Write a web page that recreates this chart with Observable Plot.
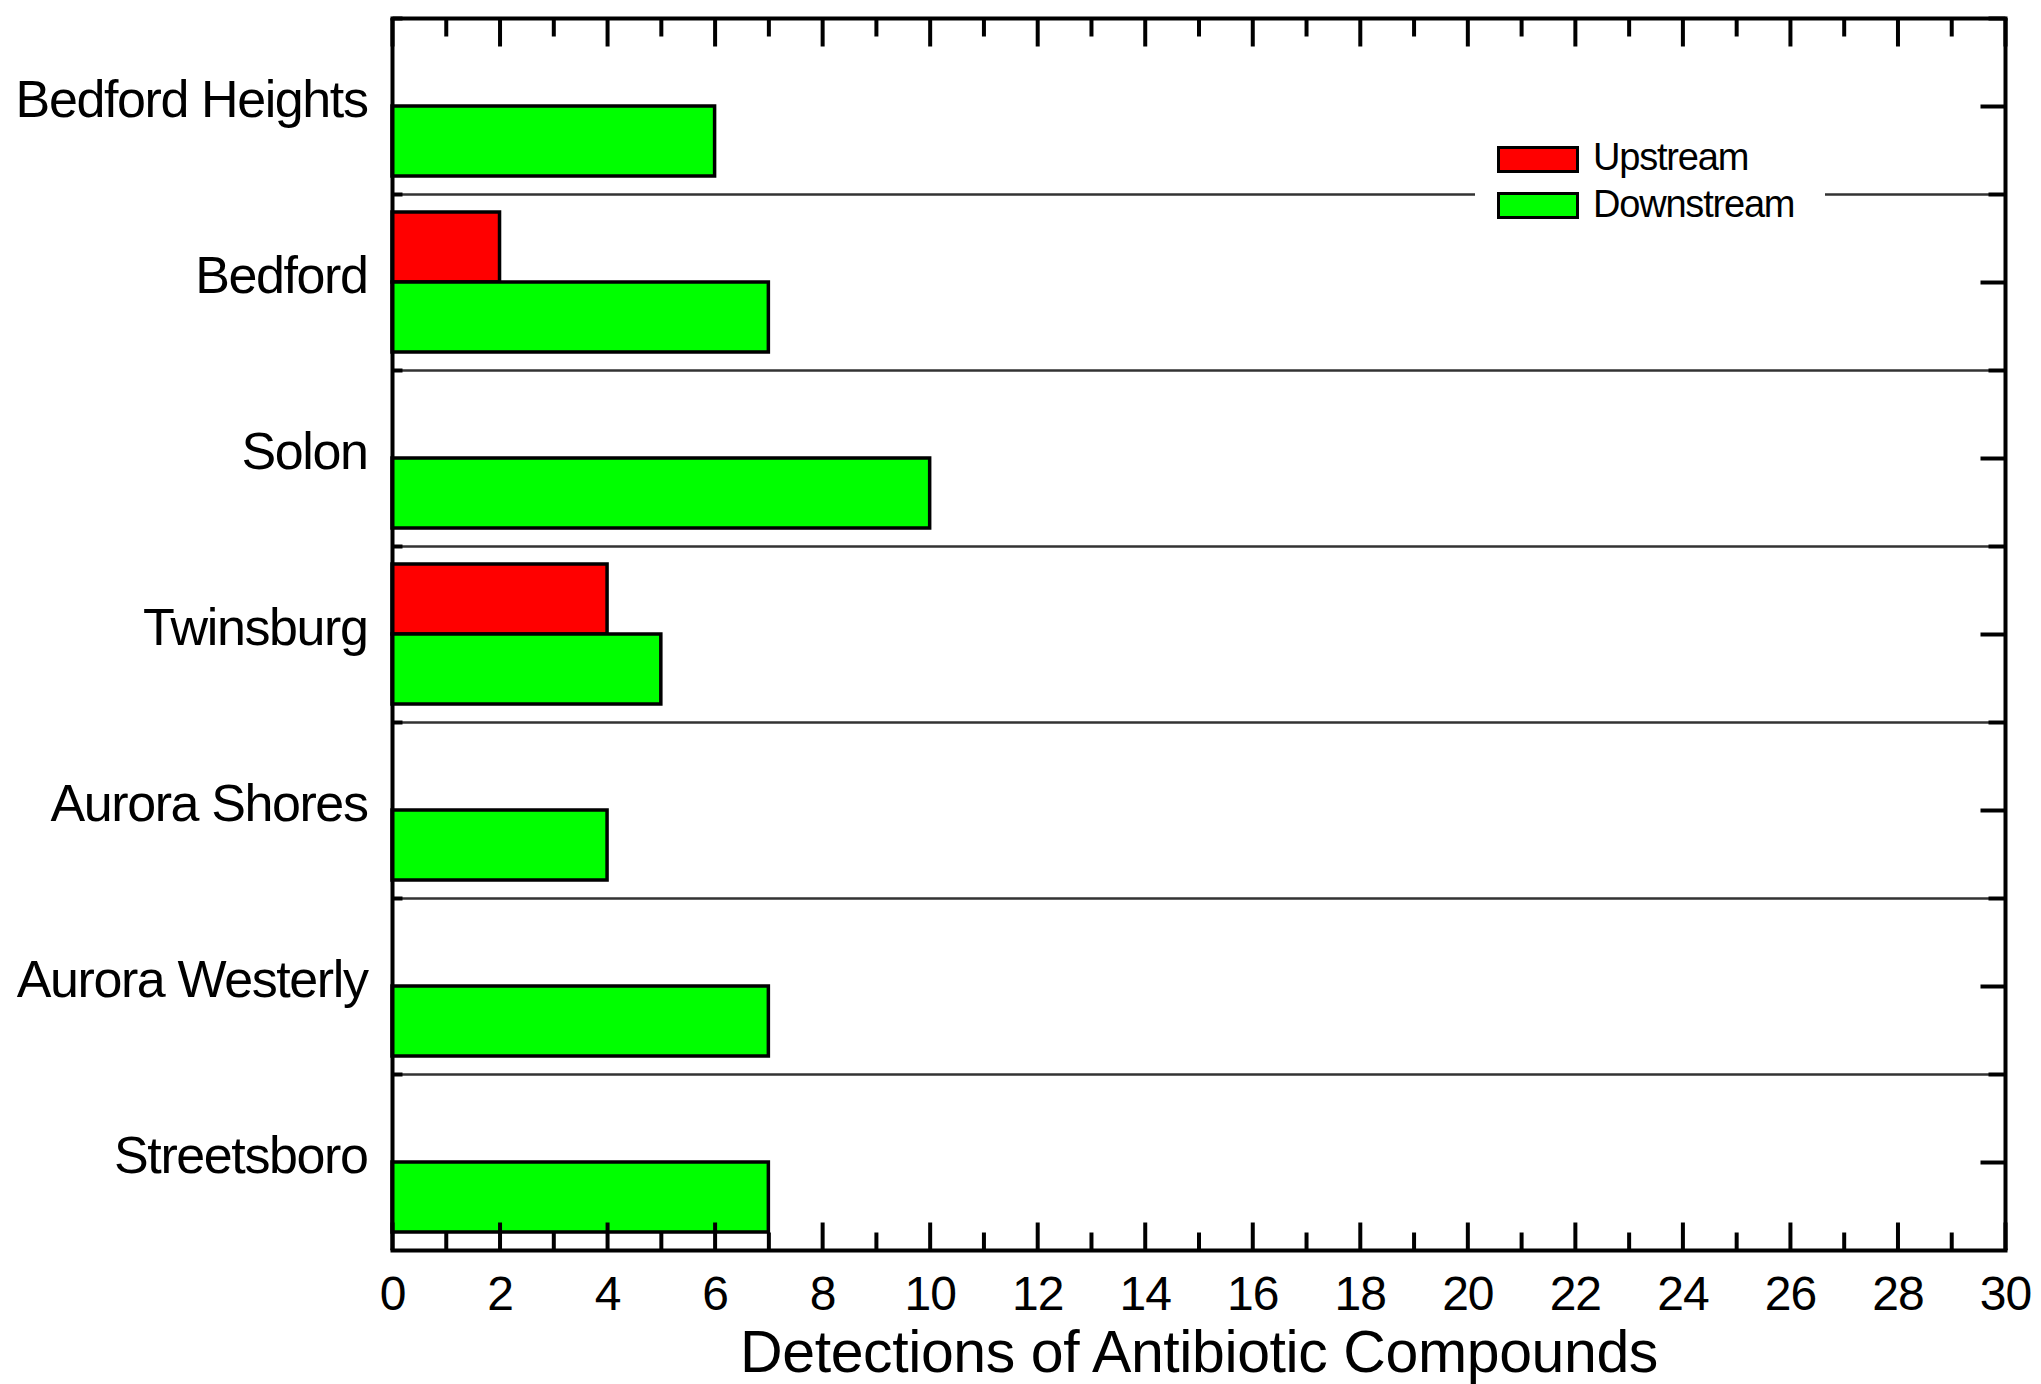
<!DOCTYPE html>
<html>
<head>
<meta charset="utf-8">
<script src="https://cdn.jsdelivr.net/npm/d3@7"></script>
<script src="https://cdn.jsdelivr.net/npm/@observablehq/plot@0.6"></script>
<style>
  html, body { margin: 0; padding: 0; background: #fff; }
  #wrap { position: relative; width: 2041px; height: 1384px; }
  .catlab text { letter-spacing: -1.4px; }
  .ticklab text { letter-spacing: -1px; }
  .xtitle { letter-spacing: -0.4px; }
  #legend { position: absolute; left: 1475px; top: 134px; width: 350px; height: 98px; background: #fff;
            font-family: "Liberation Sans", Arial, sans-serif; color: #000; }
  #legend .sw { position: absolute; left: 22px; width: 82px; height: 27px; box-sizing: border-box; border: 3.5px solid #000; }
  #legend .lb { position: absolute; left: 118px; font-size: 38px; line-height: 38px; letter-spacing: -1.2px; white-space: nowrap; }
</style>
</head>
<body>
<div id="wrap"></div>
<script>
// ---- data ----
const sites = ["Bedford Heights", "Bedford", "Solon", "Twinsburg", "Aurora Shores", "Aurora Westerly", "Streetsboro"];
const upstream = [0, 2, 0, 4, 0, 0, 0];
const downstream = [6, 7, 10, 5, 4, 7, 7];
const seriesNames = ["Upstream", "Downstream"];
const seriesColors = ["#ff0000", "#00ff00"];
const xMajorTicks = [0, 2, 4, 6, 8, 10, 12, 14, 16, 18, 20, 22, 24, 26, 28, 30];
const xMinorTicks = [1, 3, 5, 7, 9, 11, 13, 15, 17, 19, 21, 23, 25, 27, 29];
const xTitle = "Detections of Antibiotic Compounds";

const rows = sites.flatMap((s, i) => [
  {site: s, series: seriesNames[0], value: upstream[i]},
  {site: s, series: seriesNames[1], value: downstream[i]}
]).filter(d => d.value > 0);

const tickShape = {draw(context, l) { context.moveTo(0, 0); context.lineTo(0, -l); }};
const tickOpts = {shape: tickShape, anchor: "start", stroke: "#000", strokeWidth: 4, strokeLinecap: "butt"};

const chart = Plot.plot({
  width: 2041,
  height: 1384,
  marginLeft: 392,
  marginRight: 36,
  marginTop: 16,
  marginBottom: 133,
  style: {fontFamily: '"Liberation Sans", Arial, sans-serif', color: "#000", background: "#fff", overflow: "visible"},
  x: {domain: [0, 30], axis: null},
  y: {domain: seriesNames, paddingInner: 0, paddingOuter: 0.24, axis: null},
  fy: {domain: sites, padding: 0, axis: null},
  color: {domain: seriesNames, range: seriesColors},
  marks: [
    Plot.frame({stroke: "#333", strokeWidth: 2}),
    Plot.barX(rows, {fy: "site", y: "series", x: "value", fill: "series", stroke: "#000", strokeWidth: 3.5}),
    Plot.ruleX([0, 30], {stroke: "#000", strokeWidth: 4}),
    Plot.frame({anchor: "top", facetAnchor: "top", stroke: "#000", strokeWidth: 4}),
    Plot.frame({anchor: "bottom", facetAnchor: "bottom", stroke: "#000", strokeWidth: 4}),
    Plot.vector(xMajorTicks, {x: d => d, frameAnchor: "bottom", facetAnchor: "bottom", length: 28, rotate: 0, ...tickOpts}),
    Plot.vector(xMinorTicks, {x: d => d, frameAnchor: "bottom", facetAnchor: "bottom", length: 18, rotate: 0, ...tickOpts}),
    Plot.vector(xMajorTicks, {x: d => d, frameAnchor: "top", facetAnchor: "top", length: 28, rotate: 180, ...tickOpts}),
    Plot.vector(xMinorTicks, {x: d => d, frameAnchor: "top", facetAnchor: "top", length: 18, rotate: 180, ...tickOpts}),
    Plot.vector([0], {frameAnchor: "right", length: 25, rotate: -90, ...tickOpts}),
    Plot.vector([0], {frameAnchor: "top-right", length: 17, rotate: -90, ...tickOpts}),
    Plot.vector([0], {frameAnchor: "top-left", length: 10, rotate: 90, ...tickOpts}),
    Plot.axisX(xMajorTicks, {anchor: "bottom", tickSize: 0, tickPadding: 25, fontSize: 48, label: null, className: "ticklab"}),
    Plot.axisFy({anchor: "left", tickSize: 0, tickPadding: 25, fontSize: 52, label: null, dy: -6, className: "catlab"}),
    Plot.text([xTitle], {frameAnchor: "bottom", facetAnchor: "bottom", lineAnchor: "top", dy: 80, fontSize: 59, className: "xtitle"})
  ]
});

const wrap = document.getElementById("wrap");
wrap.appendChild(chart);

// legend (overlay, white box interrupting the separator line)
const legend = document.createElement("div");
legend.id = "legend";
const swTops = [12, 58];
const lbTops = [4, 51];
seriesNames.forEach((name, i) => {
  const sw = document.createElement("div");
  sw.className = "sw";
  sw.style.top = swTops[i] + "px";
  sw.style.background = seriesColors[i];
  legend.appendChild(sw);
  const lb = document.createElement("div");
  lb.className = "lb";
  lb.style.top = lbTops[i] + "px";
  lb.textContent = name;
  legend.appendChild(lb);
});
wrap.appendChild(legend);
</script>
</body>
</html>
